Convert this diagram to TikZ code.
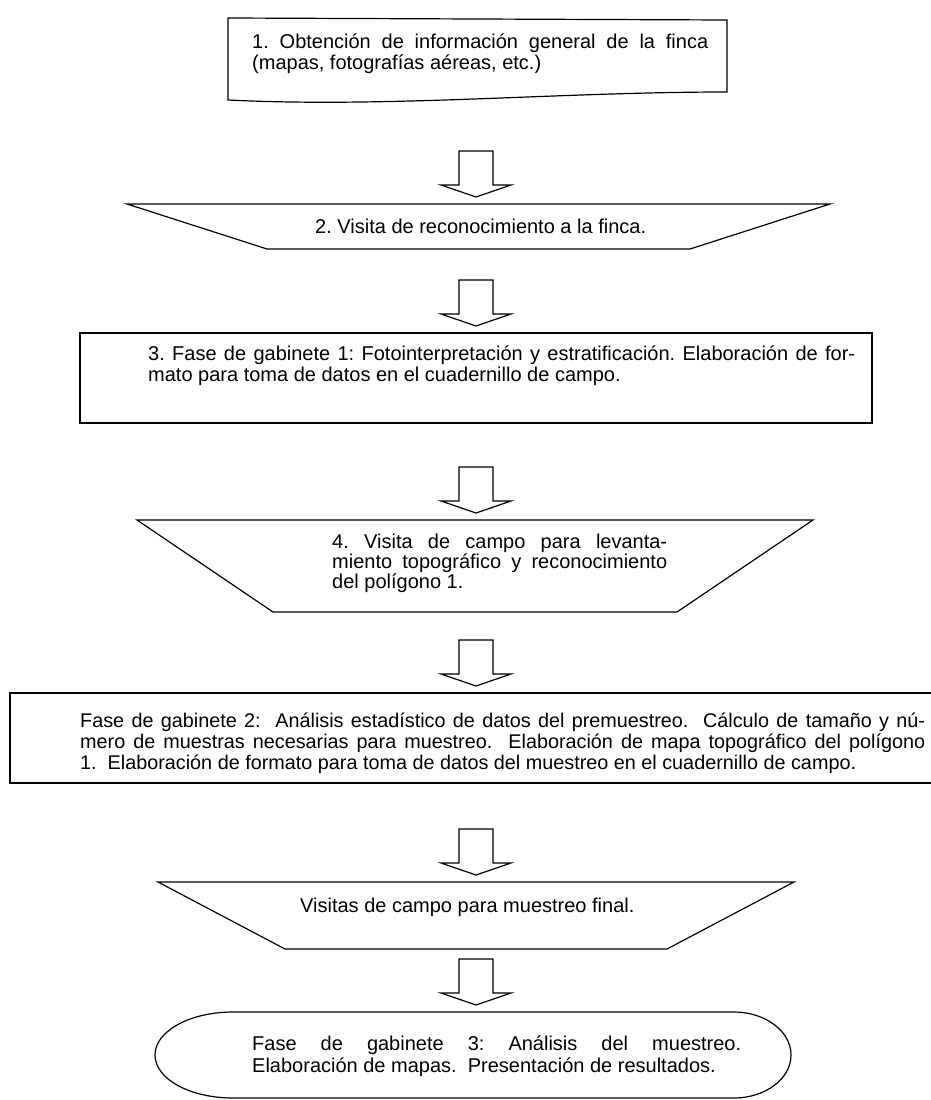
\documentclass[tikz,border=0pt]{standalone}
\usepackage{fontspec}
\setmainfont{Liberation Sans}
\newcommand\renglones[2]{\vtop{\baselineskip=#1\relax #2}}
\begin{document}
\frenchspacing
\begin{tikzpicture}[x=1pt,y=-1pt,
  linea/.style={draw=black, line width=1.2pt, line join=miter},
  area/.style={inner sep=0pt, outer sep=0pt},
  texto/.style={inner sep=0pt, anchor=base west, font=\fontsize{20}{21}\selectfont},
  pics/flecha/.style={code={\draw[linea] (0,-7) -- (35,-19) -- (17,-19) -- (17,-53) -- (-17,-53) -- (-17,-19) -- (-35,-19) -- cycle;}}]
\useasboundingbox (0,0) rectangle (931,1100);
\clip (0,0) rectangle (931,1100);

% Box 1
\node[area, minimum width=499pt, minimum height=82pt] (b1) at (477.5,59) {};
\draw[linea] (b1.north west) -- ([yshift=-2pt]b1.north east) -- ([yshift=8pt]b1.south east)
  .. controls ([xshift=-170pt,yshift=8pt]b1.south east) and ([xshift=160pt,yshift=-8pt]b1.south west) .. (b1.south west) -- cycle;
\node[texto] (t1) at (252,48) {\renglones{21pt}{\hbox to 456pt{1. Obtención de información general de la finca}\hbox{(mapas, fotografías aéreas, etc.)}}};

% Box 2
\node[area, minimum width=703pt, minimum height=45pt] (b2) at (478.5,226.5) {};
\draw[linea] (b2.north west) -- (b2.north east) -- ([xshift=-140pt]b2.south east) -- ([xshift=140pt]b2.south west) -- cycle;
\node[texto] (t2) at (315,233) {2. Visita de reconocimiento a la finca.};

% Box 3
\node[linea, area, minimum width=792pt, minimum height=90pt] (b3) at (476,378) {};
\node[texto] (t3) at (148,360) {\renglones{21pt}{\hbox to 707pt{3. Fase de gabinete 1: Fotointerpretación y estratificación. Elaboración de for-}\hbox{mato para toma de datos en el cuadernillo de campo.}}};

% Box 4
\node[area, minimum width=676pt, minimum height=92pt] (b4) at (475,566) {};
\draw[linea] (b4.north west) -- (b4.north east) -- ([xshift=-136pt]b4.south east) -- ([xshift=136pt]b4.south west) -- cycle;
\node[texto] (t4) at (332,548) {\renglones{20pt}{\hbox to 335pt{4. Visita de campo para levanta-}\hbox to 335pt{miento topográfico y reconocimiento}\hbox{del polígono 1.}}};

% Box 5
\node[linea, area, minimum width=940pt, minimum height=90pt] (b5) at (480,738) {};
\node[texto, font=\fontsize{19.8}{21}\selectfont] (t5) at (80,727) {\renglones{21pt}{\hbox to 845pt{Fase de gabinete 2:~~Análisis estadístico de datos del premuestreo.~~Cálculo de tamaño y nú-}\hbox to 845pt{mero de muestras necesarias para muestreo.~~Elaboración de mapa topográfico del polígono}\hbox{1.~~Elaboración de formato para toma de datos del muestreo en el cuadernillo de campo.}}};

% Box 6
\node[area, minimum width=636pt, minimum height=67pt] (b6) at (476,915.5) {};
\draw[linea] (b6.north west) -- (b6.north east) -- ([xshift=-127pt]b6.south east) -- ([xshift=127pt]b6.south west) -- cycle;
\node[texto] (t6) at (300,912) {Visitas de campo para muestreo final.};

% Box 7
\node[area, minimum width=636pt, minimum height=86pt] (b7) at (473,1055) {};
\draw[linea] ([xshift=78pt]b7.north west) -- ([xshift=-57pt]b7.north east)
  .. controls ([xshift=-26pt]b7.north east) and ([yshift=24pt]b7.east) .. (b7.east)
  .. controls ([yshift=-24pt]b7.east) and ([xshift=-26pt]b7.south east) .. ([xshift=-57pt]b7.south east)
  -- ([xshift=78pt]b7.south west)
  .. controls ([xshift=35pt]b7.south west) and ([yshift=-24pt]b7.west) .. (b7.west)
  .. controls ([yshift=24pt]b7.west) and ([xshift=35pt]b7.north west) .. cycle;
\node[texto] (t7) at (252,1050) {\renglones{22pt}{\hbox to 489pt{Fase de gabinete 3: Análisis del muestreo.}\hbox{Elaboración de mapas.~~Presentación de resultados.}}};

% Block arrows
\coordinate (col) at (476,0);
\foreach \b in {b2,b3,b4,b5,b6,b7} {\pic at (col |- \b.north) {flecha};}
\end{tikzpicture}
\end{document}
